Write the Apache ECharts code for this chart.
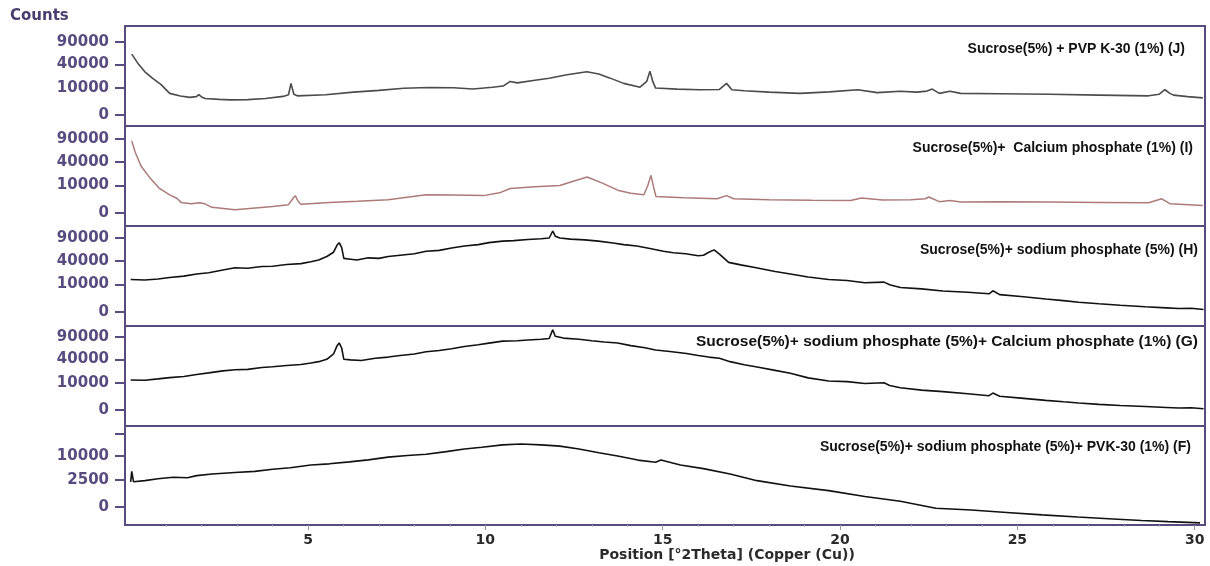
<!DOCTYPE html>
<html>
<head>
<meta charset="utf-8">
<title>XRD</title>
<script src="https://cdn.jsdelivr.net/npm/echarts/dist/echarts.min.js"></script>
<style>
  html, body { margin: 0; padding: 0; background: #fff; }
  #main { width: 1210px; height: 566px; }
</style>
</head>
<body>
<div id="main"></div>
<script type="text/javascript">
// x tick labels and the count ticks of each panel
var xTicks = [5, 10, 15, 20, 25, 30];
var countTicks = [0, 10000, 40000, 90000];
var countTicksF = [0, 2500, 10000, 22500];
var countLabelsF = ['0', '2500', '10000', ''];

var labelJ = 'Sucrose(5%) + PVP K-30 (1%) (J)';
var labelI = 'Sucrose(5%)+  Calcium phosphate (1%) (I)';
var labelH = 'Sucrose(5%)+ sodium phosphate (5%) (H)';
var labelG = 'Sucrose(5%)+ sodium phosphate (5%)+ Calcium phosphate (1%) (G)';
var labelF = 'Sucrose(5%)+ sodium phosphate (5%)+ PVK-30 (1%) (F)';

// [2theta, counts]
var seriesJ = [[0.03,60000],[0.2,42000],[0.4,28000],[0.63,19000],[0.85,13000],[1.1,6000],[1.4,4500],[1.67,3800],
  [1.85,4200],[1.92,5200],[2.0,4000],[2.1,3300],[2.5,2900],[2.8,2700],[3.3,2800],[3.8,3300],[4.3,4300],[4.45,5200],
  [4.52,14000],[4.6,5500],[4.7,4600],[5.5,5200],[6.28,6800],[7.0,8000],[7.7,9600],[8.4,10200],[9.1,10000],[9.65,9000],
  [10.2,10500],[10.5,11500],[10.7,16000],[10.9,14500],[11.35,17000],[11.8,19500],[12.3,24000],[12.86,28000],[13.2,25000],
  [13.5,20000],[13.9,14000],[14.36,10500],[14.55,16000],[14.64,29000],[14.72,16000],[14.8,9800],[15.4,9000],[16.05,8500],
  [16.6,8700],[16.8,14000],[16.95,8500],[17.3,7800],[18.0,6800],[18.87,6000],[19.7,7000],[20.5,8500],[21.05,6500],
  [21.7,7400],[22.16,6800],[22.45,7500],[22.6,9000],[22.8,6000],[23.1,7400],[23.4,6000],[24.5,5800],[25.9,5500],
  [27.3,5000],[28.7,4600],[29.0,5500],[29.16,8500],[29.3,6000],[29.4,5000],[29.8,4200],[30.23,3600]];

var seriesI = [[0.03,85000],[0.13,57600],[0.3,32000],[0.56,16400],[0.8,8000],[1.1,3970],[1.3,2500],[1.42,1200],
  [1.7,900],[1.95,1100],[2.0,1500],[2.08,900],[2.29,300],[2.94,80],[3.6,250],[4.0,400],[4.45,700],[4.58,2500],
  [4.64,3600],[4.72,1500],[4.8,800],[5.6,1200],[6.4,1500],[7.26,1970],[8.33,3970],[9.1,3900],[9.95,3600],[10.4,5000],
  [10.7,7700],[11.4,9000],[12.1,10000],[12.5,14000],[12.87,18200],[13.3,12000],[13.73,6600],[14.1,4800],[14.47,3970],
  [14.58,10000],[14.67,20100],[14.75,8000],[14.81,3200],[15.6,2700],[16.53,2300],[16.8,3600],[17.0,2300],[18.0,2000],
  [19.2,1800],[20.3,1700],[20.6,2600],[21.2,1900],[22.0,2000],[22.4,2300],[22.5,3000],[22.8,1400],[23.1,1700],
  [23.4,1300],[24.5,1400],[25.9,1300],[27.3,1200],[28.7,1100],[29.07,2300],[29.3,900],[30.23,550]];

var seriesH = [[0.0,14400],[0.4,14000],[0.77,15000],[1.1,16500],[1.5,18000],[1.86,20400],[2.2,22000],[2.6,25500],
  [2.94,28600],[3.3,28000],[3.7,30500],[4.0,31000],[4.4,33500],[4.8,35000],[5.08,38000],[5.3,41000],[5.53,47500],
  [5.72,56000],[5.82,72000],[5.88,77800],[5.95,66000],[6.01,44000],[6.2,42500],[6.38,41000],[6.7,45000],[7.0,44000],
  [7.26,47500],[7.6,50000],[8.0,53000],[8.33,58000],[8.7,60000],[9.05,65000],[9.41,69700],[9.8,73000],[10.1,78000],
  [10.49,81800],[10.8,83000],[11.2,86000],[11.57,88000],[11.8,90000],[11.9,110000],[11.97,95000],[12.1,90000],
  [12.4,87000],[12.8,85000],[13.19,81800],[13.6,77000],[13.9,73000],[14.27,69700],[14.64,64000],[15.02,58000],
  [15.3,55000],[15.65,53000],[16.0,49000],[16.15,50000],[16.3,56000],[16.45,61000],[16.6,52000],[16.86,37000],
  [17.2,33000],[17.6,29000],[18.17,23500],[18.6,20500],[19.1,17000],[19.68,14400],[20.2,13500],[20.7,11500],
  [21.24,12000],[21.4,9800],[21.7,7700],[22.3,6800],[22.9,5500],[23.6,4800],[24.2,4000],[24.31,5600],[24.5,3600],
  [25.1,2800],[25.8,1900],[26.3,1400],[26.73,1000],[27.3,700],[27.9,450],[28.6,250],[29.2,150],[29.55,100],
  [29.9,120],[30.25,50]];

var seriesG = [[0.0,12500],[0.4,12200],[0.77,13500],[1.1,14800],[1.5,16000],[1.86,18200],[2.2,20000],[2.6,22500],
  [2.94,24000],[3.3,24500],[3.7,27000],[4.0,28000],[4.4,30000],[4.8,31500],[5.08,33900],[5.3,36000],[5.53,40000],
  [5.72,50000],[5.82,68000],[5.88,74500],[5.95,62000],[6.01,40000],[6.2,39000],[6.5,38000],[6.9,42000],[7.26,44000],
  [7.6,47000],[8.0,50000],[8.33,54300],[8.7,57000],[9.05,61000],[9.41,66000],[9.8,70000],[10.1,74000],[10.49,79000],
  [10.9,80000],[11.2,82000],[11.57,84000],[11.8,86000],[11.9,111000],[11.97,92000],[12.2,87000],[12.64,84000],
  [13.0,80000],[13.35,77000],[13.73,74500],[14.1,68000],[14.5,63000],[14.8,58000],[15.2,55000],[15.67,51000],
  [16.0,47000],[16.3,44000],[16.6,42000],[16.9,36000],[17.3,31000],[17.7,27500],[18.17,23100],[18.6,19500],
  [19.1,14500],[19.68,11500],[20.2,11000],[20.7,9500],[21.24,10000],[21.4,8000],[21.7,6400],[22.3,5000],[22.9,4200],
  [23.6,3200],[24.2,2400],[24.31,3500],[24.5,2200],[25.1,1600],[25.8,1000],[26.3,700],[26.73,500],[27.3,300],
  [27.9,180],[28.6,100],[29.2,50],[29.55,30],[29.9,40],[30.25,10]];

var seriesF = [[0.0,2060],[0.03,4500],[0.08,2100],[0.4,2300],[0.77,2700],[1.2,3000],[1.6,2900],[1.86,3400],[2.3,3800],
  [2.94,4200],[3.5,4500],[4.0,5100],[4.5,5600],[5.08,6500],[5.6,6900],[6.17,7600],[6.7,8400],[7.26,9500],[7.8,10200],
  [8.33,10800],[8.9,12000],[9.41,13300],[9.9,14200],[10.49,15500],[11.0,16000],[11.57,15500],[12.1,14800],[12.64,13300],
  [13.2,11500],[13.73,10000],[14.3,8300],[14.8,7500],[14.95,8300],[15.5,6500],[16.15,5300],[16.9,3800],[17.66,2300],
  [18.6,1400],[19.68,800],[20.7,300],[21.7,80],[22.7,-3],[23.7,-18],[24.7,-70],[25.7,-160],[26.7,-270],[27.7,-400],
  [28.5,-520],[29.25,-630],[29.8,-700],[30.15,-750]];

// intensity axis is drawn on a compressed (power) scale, like the instrument plot
var POW = 0.45;
function tf(v) {
  return v < 0 ? -Math.pow(-v, POW) : Math.pow(v, POW);
}
function toPlot(arr) {
  return arr.map(function (p) { return [p[0], tf(p[1])]; });
}

var purple = '#594a80';
var xMin = -0.16, xMax = 30.29;

// one entry per stacked panel
var panels = [
  { data: seriesJ, color: '#4b4b4b', width: 1.6, top: 26,  height: 100, min: -25.6, max: 206.7, ticks: countTicks, labels: null },
  { data: seriesI, color: '#ad7a7a', width: 1.5, top: 126, height: 100, min: -29.8, max: 199.4, ticks: countTicks, labels: null },
  { data: seriesH, color: '#111111', width: 1.6, top: 226, height: 100, min: -32.1, max: 197.1, ticks: countTicks, labels: null },
  { data: seriesG, color: '#111111', width: 1.6, top: 326, height: 100, min: -37.2, max: 195.1, ticks: countTicks, labels: null },
  { data: seriesF, color: '#111111', width: 1.6, top: 426, height: 99,  min: -22.3, max: 100.2, ticks: countTicksF, labels: countLabelsF }
];

var grids = [], xAxes = [], yAxes = [], series = [];
panels.forEach(function (p, i) {
  grids.push({ left: 125, width: 1080, top: p.top, height: p.height, show: true,
    borderColor: purple, borderWidth: 2, backgroundColor: 'transparent' });

  var isLast = (i === panels.length - 1);
  xAxes.push({
    type: 'value', gridIndex: i, min: xMin, max: xMax, show: isLast, position: 'bottom',
    axisLine: { show: true, onZero: false, lineStyle: { color: purple, width: 2 } },
    axisTick: { show: true, customValues: xTicks, length: 5, lineStyle: { color: '#999', width: 1 } },
    axisLabel: { show: true, customValues: xTicks, margin: 8, color: '#2a2a2a', fontSize: 14,
      fontWeight: 'bold', fontFamily: 'DejaVu Sans' },
    splitLine: { show: false },
    name: isLast ? 'Position [°2Theta] (Copper (Cu))' : '',
    nameLocation: 'middle', nameGap: 21,
    nameTextStyle: { color: '#2a2a2a', fontSize: 14, fontWeight: 'bold', fontFamily: 'DejaVu Sans',
      padding: [0, 0, 0, 124] }
  });

  var tv = p.ticks.map(tf);
  yAxes.push({
    type: 'value', gridIndex: i, min: p.min, max: p.max,
    axisLine: { show: true, onZero: false, lineStyle: { color: purple, width: 2 } },
    axisTick: { show: true, customValues: tv, length: 10, lineStyle: { color: purple, width: 2 } },
    axisLabel: {
      customValues: tv, margin: 16, color: purple, fontSize: 15, fontWeight: 'bold', fontFamily: 'DejaVu Sans',
      formatter: function (v) {
        for (var k = 0; k < tv.length; k++) {
          if (Math.abs(tv[k] - v) < 1e-6) return p.labels ? p.labels[k] : String(p.ticks[k]);
        }
        return '';
      }
    },
    splitLine: { show: false }
  });

  series.push({
    type: 'line', xAxisIndex: i, yAxisIndex: i, data: toPlot(p.data),
    showSymbol: false, silent: true,
    lineStyle: { color: p.color, width: p.width }
  });
});

// minor ticks on the bottom axis, one per degree
var minorTicks = [];
for (var d = 1; d <= 30; d++) { if (d % 5 !== 0) minorTicks.push(d); }
xAxes.push({
  type: 'value', gridIndex: 4, min: xMin, max: xMax, position: 'bottom', offset: 0,
  axisLine: { show: false, onZero: false }, axisLabel: { show: false }, splitLine: { show: false },
  axisTick: { show: true, customValues: minorTicks, length: 2, lineStyle: { color: '#bbb', width: 1 } }
});

var lblFont = 'bold 14px "Liberation Sans", Arial, sans-serif';
var option = {
  animation: false,
  grid: grids,
  xAxis: xAxes,
  yAxis: yAxes,
  series: series,
  graphic: [
    { type: 'text', left: 10, top: 9, style: { text: 'Counts', fill: '#4a3d6e', font: 'bold 15px "DejaVu Sans"' } },
    { type: 'text', right: 25, top: 42, style: { text: labelJ, fill: '#111', font: lblFont } },
    { type: 'text', right: 17, top: 141, style: { text: labelI, fill: '#111', font: lblFont } },
    { type: 'text', right: 12, top: 243, style: { text: labelH, fill: '#111', font: lblFont } },
    { type: 'text', right: 12, top: 334, style: { text: labelG, fill: '#111', font: 'bold 15.5px "Liberation Sans", Arial, sans-serif' } },
    { type: 'text', right: 19, top: 440, style: { text: labelF, fill: '#111', font: lblFont } }
  ]
};

var chart = echarts.init(document.getElementById('main'));
chart.setOption(option);
</script>
</body>
</html>
